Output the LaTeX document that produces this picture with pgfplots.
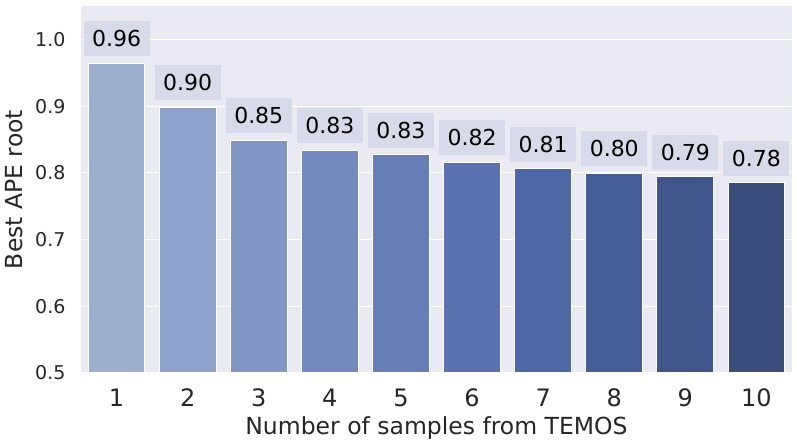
\documentclass[border=0pt]{standalone}
\usepackage{fontspec}
\setmainfont{DejaVu Sans}
\usepackage{pgfplots}
\pgfplotsset{compat=1.18}
\definecolor{bgcol}{HTML}{EAEAF2}
\definecolor{txt}{HTML}{262626}
\definecolor{boxcol}{HTML}{D3D8E8}
\definecolor{c1}{HTML}{9DAECF}
\definecolor{c2}{HTML}{8EA2CB}
\definecolor{c3}{HTML}{8196C5}
\definecolor{c4}{HTML}{748ABE}
\definecolor{c5}{HTML}{677EB6}
\definecolor{c6}{HTML}{5A72AF}
\definecolor{c7}{HTML}{4E67A5}
\definecolor{c8}{HTML}{465E98}
\definecolor{c9}{HTML}{40568A}
\definecolor{c10}{HTML}{3A4D7B}
\begin{document}
\begin{tikzpicture}
\begin{axis}[
  name=ax,
  scale only axis,
  width=711pt, height=367pt,
  xmin=-0.5, xmax=9.5,
  ymin=0.5, ymax=1.05,
  axis background/.style={fill=bgcol},
  axis line style={draw=none},
  major tick length=0pt,
  ymajorgrids, 
  grid style={white, line width=1.1pt},
  ytick={0.5,0.6,0.7,0.8,0.9,1.0},
  yticklabel style={/pgf/number format/fixed, /pgf/number format/precision=1, /pgf/number format/fixed zerofill, font=\fontsize{19}{19}\selectfont, text=txt},
  /pgf/number format/assume math mode=true,
  xtick={0,...,9},
  xticklabels={1,2,3,4,5,6,7,8,9,10},
  xticklabel style={font=\fontsize{24}{24}\selectfont, text=txt, anchor=center, yshift=-25pt},
  xtick pos=bottom,
  ytick pos=left,
  yticklabel shift=12pt,
  xlabel={Number of samples from TEMOS},
  ylabel={Best APE root},
  xlabel style={font=\fontsize{23.5}{23.5}\selectfont, text=txt, at={(axis description cs:0.5,-0.1499)}, anchor=center},
  ylabel style={font=\fontsize{23.5}{23.5}\selectfont, text=txt, at={(axis description cs:-0.094,0.5)}, anchor=center},
  ybar, bar width=0.8, bar shift=0pt,
  point meta=explicit symbolic,
  nodes near coords,
  every node near coord/.style={anchor=south, yshift=6.5pt, fill=boxcol, fill opacity=0.85, text opacity=1, text=black, font=\fontsize{22}{22}\selectfont, inner xsep=8.5pt, inner ysep=9.5pt, text height=16pt, text depth=0pt},
]
\addplot[fill=c1, draw=white, line width=1pt] coordinates {(0,0.964) [0.96]};
\addplot[fill=c2, draw=white, line width=1pt] coordinates {(1,0.898) [0.90]};
\addplot[fill=c3, draw=white, line width=1pt] coordinates {(2,0.849) [0.85]};
\addplot[fill=c4, draw=white, line width=1pt] coordinates {(3,0.834) [0.83]};
\addplot[fill=c5, draw=white, line width=1pt] coordinates {(4,0.827) [0.83]};
\addplot[fill=c6, draw=white, line width=1pt] coordinates {(5,0.816) [0.82]};
\addplot[fill=c7, draw=white, line width=1pt] coordinates {(6,0.806) [0.81]};
\addplot[fill=c8, draw=white, line width=1pt] coordinates {(7,0.799) [0.80]};
\addplot[fill=c9, draw=white, line width=1pt] coordinates {(8,0.794) [0.79]};
\addplot[fill=c10, draw=white, line width=1pt] coordinates {(9,0.785) [0.78]};
\end{axis}
\pgfresetboundingbox
\path ([shift={(-81pt,-72pt)}]ax.south west) rectangle ([shift={(5pt,6pt)}]ax.north east);
\end{tikzpicture}
\end{document}
